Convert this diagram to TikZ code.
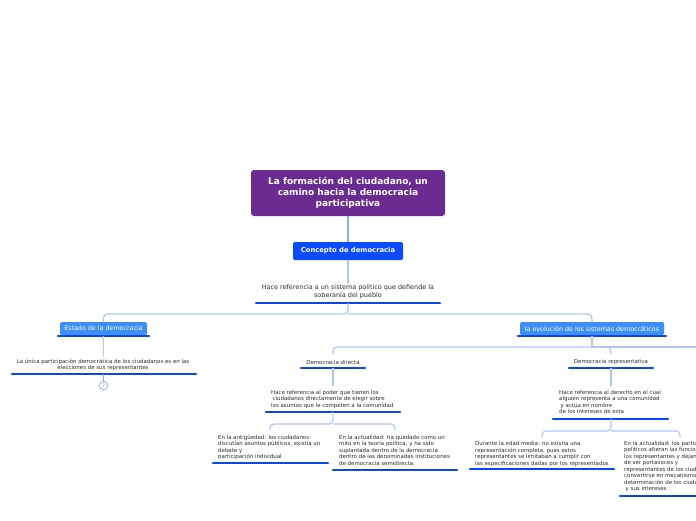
\documentclass[tikz,border=0pt]{standalone}
\usepackage{fontspec}
\setmainfont{DejaVu Sans}
\definecolor{purp}{HTML}{6A2C90}
\definecolor{cblue}{HTML}{0B4BFF}
\definecolor{sblue}{HTML}{3D8EF6}
\definecolor{ublue}{HTML}{0A46F2}
\definecolor{stemc}{HTML}{8CAAF6}
\definecolor{brc}{HTML}{B2C5FA}
\definecolor{txt}{HTML}{2A2A2A}
\begin{document}
\begin{tikzpicture}[x=1pt,y=-1pt,
  every node/.style={inner sep=0pt, text=txt},
  titlebox/.style={fill=purp, rounded corners=3pt, text=white, align=center,
    font=\bfseries\fontsize{9}{11}\selectfont},
  conceptbox/.style={fill=cblue, rounded corners=2pt, text=white,
    font=\bfseries\fontsize{6.8}{8}\selectfont},
  subbox/.style={fill=sblue, rounded corners=1.5pt, text=white,
    font=\fontsize{6.35}{7.5}\selectfont},
  midtext/.style={align=center, font=\fontsize{6.45}{8}\selectfont},
  ctext/.style={align=center, font=\fontsize{5.45}{6.5}\selectfont},
  ltext/.style={align=left, anchor=north west, font=\fontsize{5.45}{6.5}\selectfont},
  uline/.style={draw=ublue, line width=2.4pt, line cap=round},
  stem/.style={draw=stemc, line width=1.3pt},
  branch/.style={draw=brc, line width=1.2pt, rounded corners=4pt},
]
\useasboundingbox (0,0) rectangle (696,520);
\clip (0,0) rectangle (696,520);

% central nodes
\node[titlebox, minimum width=194, minimum height=46] (title) at (348,193)
  {La formación del ciudadano, un\\camino hacia la democracia\\participativa};
\node[conceptbox, minimum width=110, minimum height=18] (concept) at (348,251)
  {Concepto de democracia};
\node[midtext] (t1) at (348,291.5)
  {Hace referencia a un sistema político que defiende la\\soberanía del pueblo};
\coordinate (t1a) at (256,303); \coordinate (t1b) at (440,303);
\coordinate (t1u) at (348,303);
\coordinate (j1) at (348,314);

\draw[stem] (title.south) -- (concept.north);
\draw[stem, draw=brc] (concept.south) -- (348,283) coordinate (t1top);
\draw[uline] (t1a) -- (t1b);

% level 1
\node[subbox, minimum width=87, minimum height=13] (estado) at (103.5,328.5)
  {Estado de la democracia};
\node[subbox, minimum width=144, minimum height=13] (evol) at (592,328.5)
  {la evolución de los sistemas democráticos};
\draw[branch] (t1u) -- (j1) -| (estado.north);
\draw[branch] (j1) -| (evol.north);
\draw[uline] (58,336) coordinate (ea) -- (149,336) coordinate (eb);
\coordinate (estu) at (103.5,336);

% estado branch
\node[ctext] (et) at (103,365)
  {La única participación democrática de los ciudadanos es en las\\elecciones de sus representantes};
\draw[stem, draw=brc] (estu) -- (103.5,357) coordinate (ettop);
\draw[uline] (12,374) coordinate (eta) -- (196,374) coordinate (etb);
\coordinate (etu) at (103.5,374);
\node[circle, draw=stemc, line width=0.7pt, minimum size=8.5pt, text=stemc,
  font=\fontsize{5}{5}\selectfont] (n2) at (103.5,385.5) {2};
\draw[stem, line width=0.9pt] (etu) -- (n2.north);

% evolucion branch
\draw[uline] (518,336) coordinate (va) -- (666,336) coordinate (vb);
\coordinate (evu) at (592,336);
\coordinate (j2) at (592,347);
\node[ctext] (dd) at (333,362.3) {Democracia directa};
\node[ctext] (dr) at (611,362.3) {Democracia representativa};
\draw[stem, draw=brc] (evu) -- (j2);
\draw[branch] (j2) -| (333,354) coordinate (ddtop);
\draw[branch] (j2) -| (611,354) coordinate (drtop);
\draw[branch] (j2) -- (700,347) coordinate (offr);
\draw[uline] (301,368) coordinate (dda) -- (365,368) coordinate (ddb);
\draw[uline] (569,368) coordinate (dra) -- (653,368) coordinate (drb);
\coordinate (ddu) at (333,368);
\coordinate (dru) at (611,368);

% directa
\node[ltext] (d1) at (271,390)
  {Hace referencia al poder que tienen los\\\hspace*{1.5pt}ciudadanos directamente de elegir sobre\\los asuntos que le competen a la comunidad};
\draw[stem, draw=brc] (ddu) -- (333,386) coordinate (d1top);
\draw[uline] (266,412) coordinate (d1a) -- (400,412) coordinate (d1b);
\coordinate (d1u) at (333,412);
\coordinate (j3) at (333,424);
\draw[branch] (d1u) -- (j3) -| (270,430) coordinate (a1top);
\draw[branch] (j3) -| (395,430) coordinate (a2top);
\node[ltext] (a1) at (218,435)
  {En la antigüedad: los ciudadanos\\discutían asuntos públicos, existía un\\debate y\\participación individual};
\draw[uline] (213,463) coordinate (a1a) -- (328,463) coordinate (a1b);
\node[ltext] (a2) at (339,435)
  {En la actualidad: ha quedado como un\\mito en la teoría política, y ha sido\\suplantada dentro de la democracia\\dentro de las denominadas instituciones\\de democracia semidirecta.};
\draw[uline] (333,470) coordinate (a2a) -- (457,470) coordinate (a2b);

% representativa
\node[ltext] (r1) at (559,390)
  {Hace referencia al derecho en el cual\\alguien representa a una comunidad\\\hspace*{1.5pt}y actúa en nombre\\de los intereses de esta};
\draw[stem, draw=brc] (dru) -- (611,386) coordinate (r1top);
\draw[uline] (553,419) coordinate (r1a) -- (668,419) coordinate (r1b);
\coordinate (r1u) at (611,419);
\coordinate (j4) at (611,431);
\draw[branch] (r1u) -- (j4) -| (542,437) coordinate (b1top);
\draw[branch] (j4) -| (680,437) coordinate (b2top);
\node[ltext] (b1) at (475,441)
  {Durante la edad media: no existía una\\representación completa, pues estos\\representantes se limitaban a cumplir con\\las especificaciones dadas por los representados};
\draw[uline] (470,469) coordinate (b1a) -- (614,469) coordinate (b1b);
\node[ltext] (b2) at (624,441)
  {En la actualidad: los partidos\\políticos alteran las funciones de\\los representantes y dejan\\de ser portavoces y\\representantes de los ciudadanos para\\convertirse en mecanismos de\\determinación de los ciudadanos\\\hspace*{1.5pt}y sus intereses};
\draw[uline] (620,496) coordinate (b2a) -- (740,496) coordinate (b2b);
\end{tikzpicture}
\end{document}
